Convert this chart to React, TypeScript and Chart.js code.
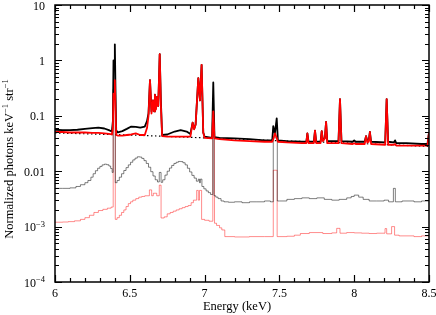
import React, { useEffect, useRef } from "react";
import { Chart, registerables } from "chart.js";
Chart.register(...registerables);

// Energy grid (keV) of the two model spectra
const lineE = [6.00, 6.05, 6.10, 6.15, 6.20, 6.25, 6.29, 6.33, 6.36, 6.38, 6.387, 6.391, 6.395, 6.400, 6.404, 6.409, 6.42, 6.45, 6.48, 6.51, 6.54, 6.57, 6.60, 6.615, 6.625, 6.635, 6.645, 6.655, 6.662, 6.668, 6.675, 6.682, 6.69, 6.70, 6.708, 6.716, 6.75, 6.80, 6.84, 6.88, 6.905, 6.92, 6.93, 6.94, 6.958, 6.969, 6.98, 6.991, 7.00, 7.05, 7.058, 7.066, 7.10, 7.20, 7.30, 7.40, 7.452, 7.459, 7.47, 7.482, 7.49, 7.55, 7.65, 7.68, 7.687, 7.695, 7.73, 7.738, 7.746, 7.775, 7.783, 7.791, 7.804, 7.812, 7.82, 7.895, 7.905, 7.915, 7.99, 8.00, 8.01, 8.07, 8.079, 8.088, 8.097, 8.105, 8.113, 8.207, 8.217, 8.227, 8.265, 8.273, 8.281, 8.35, 8.45, 8.49, 8.50];
const blackV = [0.056, 0.055, 0.055, 0.056, 0.058, 0.060, 0.061, 0.059, 0.055, 0.052, 0.08, 1.0, 0.7, 1.95, 0.35, 0.055, 0.050, 0.053, 0.058, 0.064, 0.063, 0.061, 0.064, 0.08, 0.11, 0.44, 0.12, 0.19, 0.12, 0.24, 0.14, 0.22, 0.15, 1.3, 0.18, 0.045, 0.046, 0.052, 0.055, 0.052, 0.047, 0.075, 0.058, 0.07, 0.48, 0.19, 0.83, 0.05, 0.042, 0.040, 0.40, 0.041, 0.040, 0.039, 0.038, 0.036, 0.036, 0.065, 0.048, 0.09, 0.036, 0.035, 0.034, 0.034, 0.048, 0.034, 0.034, 0.054, 0.034, 0.034, 0.053, 0.036, 0.04, 0.078, 0.035, 0.035, 0.20, 0.035, 0.034, 0.036, 0.034, 0.034, 0.043, 0.035, 0.036, 0.051, 0.034, 0.033, 0.20, 0.034, 0.033, 0.036, 0.032, 0.032, 0.031, 0.031, 0.05];
const redV = [0.051, 0.051, 0.050, 0.050, 0.050, 0.049, 0.049, 0.048, 0.047, 0.046, 0.06, 0.25, 0.2, 0.44, 0.15, 0.045, 0.044, 0.044, 0.045, 0.046, 0.048, 0.045, 0.045, 0.06, 0.10, 0.44, 0.11, 0.19, 0.12, 0.24, 0.13, 0.22, 0.15, 1.3, 0.15, 0.043, 0.042, 0.042, 0.042, 0.042, 0.042, 0.075, 0.057, 0.07, 0.48, 0.19, 0.83, 0.05, 0.040, 0.039, 0.12, 0.039, 0.038, 0.036, 0.035, 0.034, 0.034, 0.038, 0.048, 0.040, 0.034, 0.033, 0.032, 0.032, 0.048, 0.032, 0.032, 0.054, 0.032, 0.032, 0.053, 0.035, 0.039, 0.078, 0.032, 0.032, 0.20, 0.032, 0.031, 0.032, 0.031, 0.031, 0.043, 0.033, 0.034, 0.051, 0.031, 0.030, 0.20, 0.030, 0.030, 0.031, 0.029, 0.029, 0.029, 0.029, 0.05];

// Continuum (dotted)
const modelE = [6.0, 6.5, 7.0, 7.5, 8.0, 8.5];
const modelV = [0.049, 0.045, 0.040, 0.0355, 0.032, 0.028];

// Grey histogram (bin start energies and values)
const grayE = [6.00, 6.05, 6.10, 6.14, 6.17, 6.20, 6.22, 6.24, 6.255, 6.27, 6.285, 6.30, 6.315, 6.33, 6.345, 6.36, 6.372, 6.382, 6.389, 6.403, 6.415, 6.43, 6.445, 6.46, 6.475, 6.49, 6.505, 6.52, 6.535, 6.55, 6.565, 6.58, 6.595, 6.61, 6.625, 6.64, 6.655, 6.67, 6.685, 6.697, 6.709, 6.72, 6.735, 6.75, 6.765, 6.78, 6.795, 6.81, 6.825, 6.84, 6.855, 6.87, 6.885, 6.90, 6.915, 6.93, 6.945, 6.958, 6.966, 6.972, 6.982, 6.995, 7.01, 7.025, 7.04, 7.055, 7.063, 7.075, 7.09, 7.11, 7.13, 7.16, 7.20, 7.25, 7.30, 7.35, 7.40, 7.44, 7.459, 7.486, 7.50, 7.55, 7.60, 7.65, 7.70, 7.75, 7.80, 7.85, 7.90, 7.95, 7.98, 8.00, 8.03, 8.06, 8.10, 8.15, 8.20, 8.23, 8.262, 8.275, 8.32, 8.40, 8.45, 8.50];
const grayV = [0.0049, 0.0049, 0.0050, 0.0053, 0.0057, 0.0062, 0.0068, 0.0078, 0.0090, 0.0102, 0.0113, 0.0122, 0.0130, 0.0134, 0.0131, 0.0124, 0.0112, 0.0095, 0.3, 0.0062, 0.0068, 0.0078, 0.0090, 0.0103, 0.0116, 0.0130, 0.0145, 0.0160, 0.0172, 0.0182, 0.0180, 0.0170, 0.0155, 0.0138, 0.0118, 0.0098, 0.0082, 0.0070, 0.0064, 0.0095, 0.0063, 0.0070, 0.0085, 0.0100, 0.0114, 0.0127, 0.0138, 0.0145, 0.0150, 0.0149, 0.0142, 0.0130, 0.0113, 0.0097, 0.0084, 0.0075, 0.0066, 0.0072, 0.0062, 0.0072, 0.0053, 0.0048, 0.0044, 0.0041, 0.0038, 0.05, 0.0036, 0.0034, 0.0032, 0.0029, 0.0028, 0.00275, 0.0028, 0.0027, 0.0028, 0.0028, 0.0029, 0.0028, 0.04, 0.0029, 0.0029, 0.0031, 0.0032, 0.0033, 0.0032, 0.0033, 0.0031, 0.0030, 0.0031, 0.0033, 0.0035, 0.0037, 0.0034, 0.0031, 0.0029, 0.0029, 0.0030, 0.0028, 0.0049, 0.0028, 0.0029, 0.0028, 0.0029, 0.0029];

// Light red histogram
const pinkE = [6.00, 6.05, 6.09, 6.13, 6.17, 6.20, 6.23, 6.26, 6.29, 6.32, 6.35, 6.375, 6.389, 6.403, 6.415, 6.43, 6.445, 6.46, 6.475, 6.49, 6.505, 6.52, 6.54, 6.56, 6.58, 6.60, 6.631, 6.646, 6.657, 6.68, 6.697, 6.709, 6.73, 6.75, 6.77, 6.79, 6.81, 6.83, 6.85, 6.87, 6.89, 6.91, 6.925, 6.947, 6.958, 6.966, 6.98, 7.00, 7.03, 7.055, 7.066, 7.08, 7.10, 7.115, 7.135, 7.20, 7.30, 7.40, 7.459, 7.485, 7.55, 7.60, 7.64, 7.70, 7.79, 7.85, 7.883, 7.905, 7.95, 8.00, 8.05, 8.10, 8.15, 8.206, 8.217, 8.25, 8.27, 8.30, 8.40, 8.45, 8.50];
const pinkV = [0.00120, 0.00121, 0.00123, 0.00127, 0.00135, 0.00145, 0.00160, 0.00180, 0.00195, 0.00205, 0.00215, 0.00225, 0.3, 0.00135, 0.00145, 0.0016, 0.0018, 0.0020, 0.0023, 0.0026, 0.0028, 0.0030, 0.0032, 0.0034, 0.0035, 0.0036, 0.0046, 0.0036, 0.0040, 0.0036, 0.0056, 0.00143, 0.0015, 0.0017, 0.0018, 0.0019, 0.0020, 0.0021, 0.0022, 0.0023, 0.0024, 0.0027, 0.0030, 0.0045, 0.0030, 0.0045, 0.00135, 0.0013, 0.00125, 0.05, 0.00115, 0.00105, 0.00095, 0.00087, 0.00066, 0.00065, 0.00066, 0.00066, 0.0104, 0.00066, 0.00067, 0.00070, 0.00075, 0.00078, 0.00075, 0.00077, 0.00093, 0.00076, 0.00078, 0.00077, 0.00076, 0.00075, 0.00076, 0.00092, 0.00074, 0.00100, 0.00070, 0.00068, 0.00066, 0.00068, 0.00068];

// Axis ticks / labels
const xMajor = [6, 6.5, 7, 7.5, 8, 8.5];
const xLabels = ["6", "6.5", "7", "7.5", "8", "8.5"];
const yMajor = [10, 1, 0.1, 0.01, 0.001, 0.0001];
const yLabels = [["10", ""], ["1", ""], ["0.1", ""], ["0.01", ""], ["10", "\u22123"], ["10", "\u22124"]];

const FONT = "'Liberation Serif', 'Times New Roman', serif";

function pts(xs: number[], ys: number[]) {
  return xs.map((x, i) => ({ x, y: ys[i] }));
}

const axesPlugin = {
  id: "axesPlugin",
  afterDraw(chart: any) {
    const ctx = chart.ctx as CanvasRenderingContext2D;
    const { left, right, top, bottom } = chart.chartArea;
    const xs = chart.scales.x;
    const ys = chart.scales.y;
    ctx.save();
    ctx.strokeStyle = "#000";
    ctx.fillStyle = "#000";
    ctx.lineWidth = 1.5;
    ctx.strokeRect(left, top, right - left, bottom - top);
    ctx.lineWidth = 1.2;
    // x ticks
    for (let i = 0; i <= 25; i++) {
      const v = 6 + i * 0.1;
      const px = Math.round(xs.getPixelForValue(v)) + 0.5;
      const len = i % 5 === 0 ? 7 : 4;
      ctx.beginPath();
      ctx.moveTo(px, bottom);
      ctx.lineTo(px, bottom - len);
      ctx.moveTo(px, top);
      ctx.lineTo(px, top + len);
      ctx.stroke();
    }
    // y ticks
    for (let d = -4; d <= 1; d++) {
      for (let m = 1; m <= 9; m++) {
        if (d === 1 && m > 1) break;
        const v = m * Math.pow(10, d);
        const py = Math.round(ys.getPixelForValue(v)) + 0.5;
        const len = m === 1 ? 7 : 4;
        ctx.beginPath();
        ctx.moveTo(left, py);
        ctx.lineTo(left + len, py);
        ctx.moveTo(right, py);
        ctx.lineTo(right - len, py);
        ctx.stroke();
      }
    }
    // x labels
    ctx.font = `12px ${FONT}`;
    ctx.textAlign = "center";
    ctx.textBaseline = "alphabetic";
    xMajor.forEach((v, i) => {
      ctx.fillText(xLabels[i], xs.getPixelForValue(v), bottom + 15);
    });
    // y labels
    yMajor.forEach((v, i) => {
      const py = ys.getPixelForValue(v);
      const [base, sup] = yLabels[i];
      const rx = left - 10;
      ctx.textBaseline = "alphabetic";
      ctx.textAlign = "right";
      if (sup) {
        ctx.font = `8.5px ${FONT}`;
        const sw = ctx.measureText(sup).width;
        ctx.fillText(sup, rx, py);
        ctx.font = `12px ${FONT}`;
        ctx.fillText(base, rx - sw, py + 4.5);
      } else {
        ctx.font = `12px ${FONT}`;
        ctx.fillText(base, rx, py + 4.5);
      }
    });
    // x title
    ctx.font = `12.5px ${FONT}`;
    ctx.textAlign = "center";
    ctx.fillText("Energy (keV)", 237, 310);
    // y title with superscripts
    const parts: [string, boolean][] = [["Normalized photons keV", false], ["\u22121", true], [" str", false], ["\u22121", true]];
    const bigF = `12.5px ${FONT}`;
    const smallF = `8.5px ${FONT}`;
    let total = 0;
    parts.forEach(([t, s]) => {
      ctx.font = s ? smallF : bigF;
      total += ctx.measureText(t).width;
    });
    ctx.translate(12.5, 159);
    ctx.rotate(-Math.PI / 2);
    ctx.textAlign = "left";
    let cx = -total / 2;
    parts.forEach(([t, s]) => {
      ctx.font = s ? smallF : bigF;
      ctx.fillText(t, cx, s ? -4.5 : 0);
      cx += ctx.measureText(t).width;
    });
    ctx.restore();
  },
};

export default function App() {
  const ref = useRef<HTMLCanvasElement | null>(null);
  useEffect(() => {
    if (!ref.current) return;
    const common = { pointRadius: 0, tension: 0, fill: false, borderJoinStyle: "round" as const };
    const chart = new Chart(ref.current, {
      type: "line",
      data: {
        datasets: [
          { data: pts(lineE, redV), borderColor: "#ff0000", borderWidth: 1.8, ...common },
          { data: pts(lineE, blackV), borderColor: "#000000", borderWidth: 1.8, ...common },
          { data: pts(modelE, modelV), borderColor: "#000000", borderWidth: 1.2, borderDash: [1.5, 2.5], ...common },
          { data: pts(grayE, grayV), borderColor: "rgba(0,0,0,0.5)", borderWidth: 1, stepped: true, ...common },
          { data: pts(pinkE, pinkV), borderColor: "rgba(255,0,0,0.45)", borderWidth: 1, stepped: true, ...common },
        ],
      },
      options: {
        animation: false,
        responsive: false,
        devicePixelRatio: 1,
        events: [],
        layout: { padding: { left: 55, right: 7, top: 5, bottom: 33 } },
        plugins: { legend: { display: false }, tooltip: { enabled: false } },
        scales: {
          x: { type: "linear", min: 6, max: 8.5, display: false },
          y: { type: "logarithmic", min: 0.0001, max: 10, display: false },
        },
      },
      plugins: [axesPlugin],
    });
    return () => chart.destroy();
  }, []);
  return (
    <div style={{ position: "fixed", left: 0, top: 0, width: 436, height: 315, background: "#fff" }}>
      <canvas ref={ref} width={436} height={315} style={{ display: "block", width: 436, height: 315 }} />
    </div>
  );
}
